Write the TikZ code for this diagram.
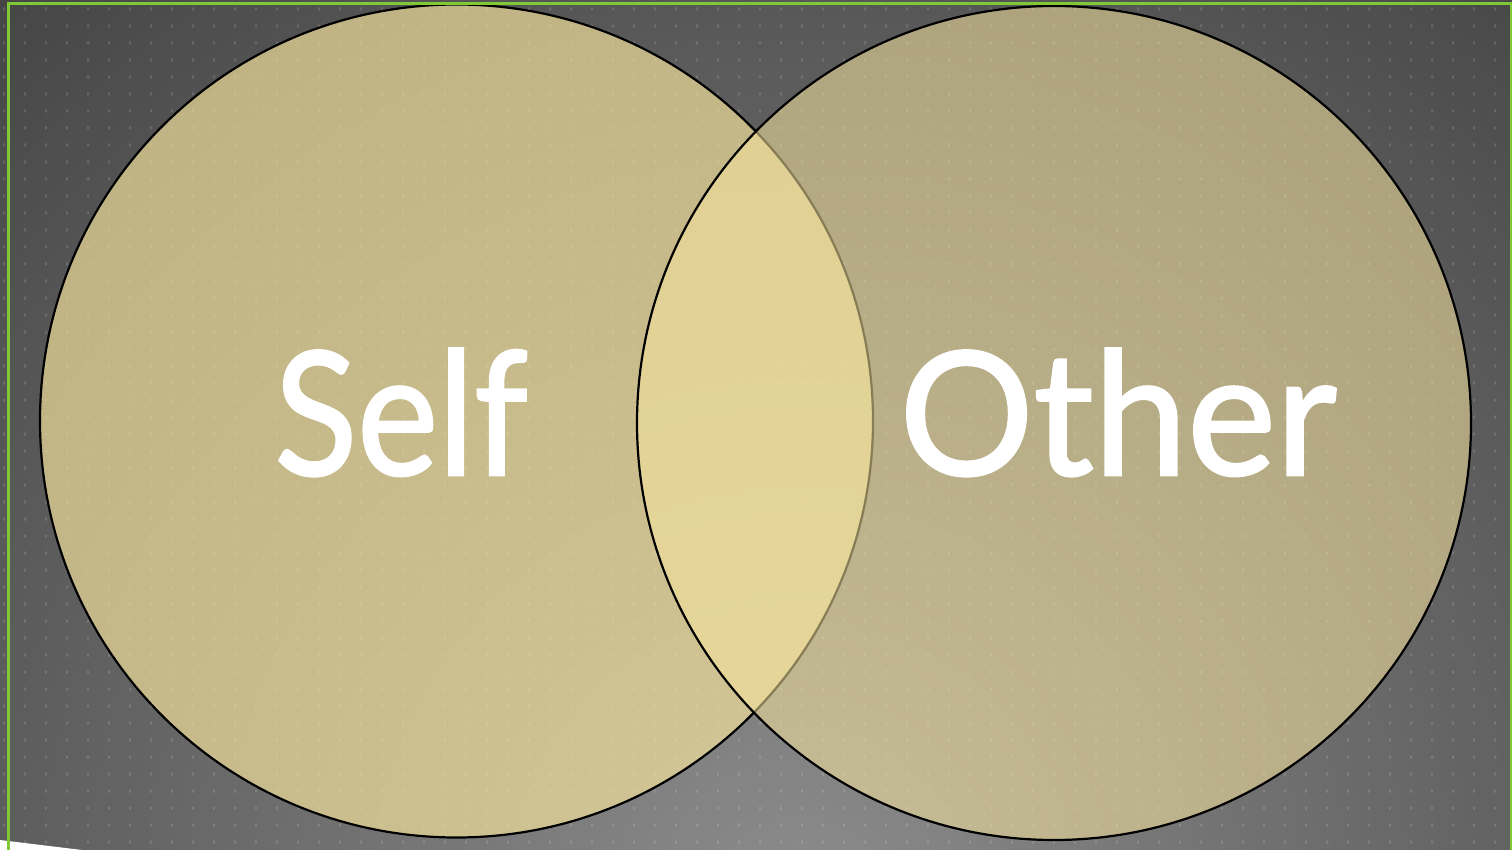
\documentclass[tikz,border=0pt]{standalone}
\usepackage{fontspec}
\setmainfont{Lato}
\newfontfamily\vennfont{Lato}[FakeBold=1.5]
\usepackage{graphicx}
\definecolor{circfill}{HTML}{F9E69E}
\definecolor{framegreen}{HTML}{80C834}
\tikzset{
  venn/.style={circle, draw=black, line width=2.2pt, fill=circfill, inner sep=0pt},
  venntext/.style={text=white, inner sep=0pt, anchor=base, font=\vennfont\fontsize{172}{172}\selectfont},
}
\begin{document}
\begin{tikzpicture}[x=1pt,y=-1pt]
\useasboundingbox (0,0) rectangle (1512,850);
\begin{scope}
  \clip (0,0) rectangle (1512,850);
  \foreach \r in {1300,1285,...,10} {
    \pgfmathtruncatemacro{\g}{round(140-0.058*\r)}
    \definecolor{ringcol}{RGB}{\g,\g,\g}
    \fill[ringcol] (800,900) circle (\r pt);
  }
\end{scope}
\fill[white, opacity=0.14] foreach \i in {0,...,71} { foreach \j in {0,...,49} { ({3+21*\i},{7.5+17*\j}) rectangle ++(2,3) } };
\node[venn, minimum size=833pt, fill opacity=0.66] (self) at (456.5,421) {};
\node[venn, minimum size=834pt, fill opacity=0.54] (other) at (1054,423) {};
\node[venntext] (selft) at (401,475) {\scalebox{0.89}[1]{Self}};
\node[venntext] (othert) at (1118,475) {\scalebox{0.975}[1]{Other}};
\fill[white] (0,840) -- (82,850) -- (0,850) -- cycle;
\draw[framegreen, line width=3pt] (8,850) -- (8,4) -- (1511,4) -- (1511,850);
\end{tikzpicture}
\end{document}
